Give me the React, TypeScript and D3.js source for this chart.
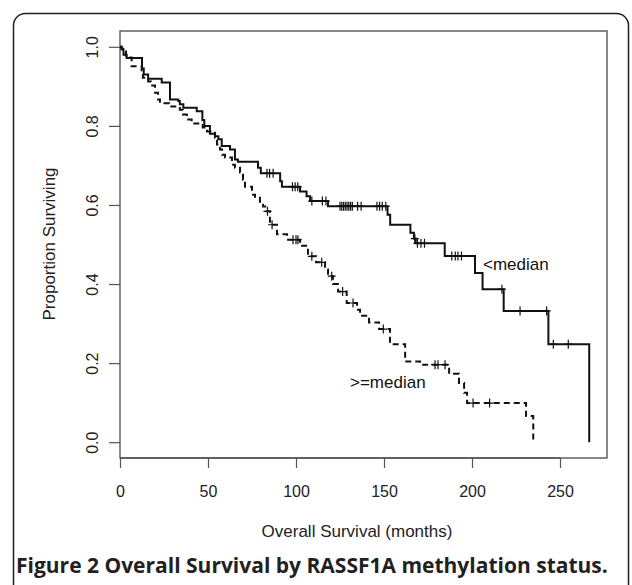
import React, { useEffect, useRef } from 'react';
import * as d3 from 'd3';

// <median group: event times (months) and survival after each event
const lowTimes = [1, 2, 3.8, 12.5, 13.5, 16, 23.7, 28.4, 33.1, 34, 36, 43.6, 46.8, 47.9, 51.1, 54, 55.9, 57.8, 62.5, 65.3, 67, 78.4, 80, 91, 92, 102.3, 106, 108, 118.2, 152, 153.5, 165, 167, 168, 184.5, 201.7, 206, 218, 243.4, 266.6];
const lowSurv = [0.993, 0.98, 0.972, 0.945, 0.93, 0.919, 0.91, 0.867, 0.863, 0.855, 0.846, 0.837, 0.815, 0.8, 0.78, 0.774, 0.766, 0.749, 0.74, 0.715, 0.709, 0.694, 0.68, 0.66, 0.646, 0.634, 0.622, 0.61, 0.597, 0.575, 0.55, 0.53, 0.515, 0.503, 0.471, 0.428, 0.387, 0.332, 0.248, 0];
const lowCensor = [83.5, 85, 87, 98, 99.5, 101, 109, 115, 117, 125, 126, 127, 128, 129, 130, 131, 132, 135, 137, 146, 147.5, 149, 151, 167.5, 169, 171, 173, 188.5, 190.5, 192, 194, 217, 227.3, 242.4, 246.2, 254.7];

// >=median group
const highTimes = [0.8, 1.7, 3.4, 6.6, 12.3, 13, 16, 17.6, 19.9, 21.6, 22.7, 28, 34, 35.8, 38, 40.7, 47, 49.4, 54, 55.1, 56.8, 58, 59.7, 63.6, 65.3, 68.2, 69.9, 71, 75, 76.7, 79.5, 81.3, 82.5, 85.2, 89.2, 94.9, 102.3, 106.8, 111.4, 116.5, 118.2, 121, 123.9, 128.8, 134.7, 136.4, 141.5, 147.2, 153.4, 162, 170.5, 187, 192.6, 195.5, 197.2, 230.7, 234.8];
const highSurv = [0.995, 0.988, 0.973, 0.951, 0.935, 0.922, 0.912, 0.902, 0.884, 0.867, 0.857, 0.849, 0.841, 0.829, 0.816, 0.806, 0.796, 0.786, 0.77, 0.753, 0.74, 0.727, 0.72, 0.702, 0.694, 0.682, 0.664, 0.646, 0.626, 0.618, 0.608, 0.596, 0.584, 0.55, 0.526, 0.512, 0.497, 0.47, 0.455, 0.437, 0.42, 0.4, 0.381, 0.352, 0.335, 0.32, 0.303, 0.286, 0.248, 0.204, 0.196, 0.173, 0.15, 0.125, 0.099, 0.066, 0];
const highCensor = [83.8, 86.4, 98.3, 100, 101.1, 109, 114.6, 120.3, 126.5, 132.4, 149.6, 179, 180.7, 184.7, 200.6, 210];

const xTicks = [0, 50, 100, 150, 200, 250];
const yTicks = [0, 0.2, 0.4, 0.6, 0.8, 1.0];

const W = 632, H = 585;
const font = 'Liberation Sans, Arial, Helvetica, sans-serif';

function App() {
    const ref = useRef<SVGSVGElement>(null);

    useEffect(() => {
        const svg = d3.select(ref.current);
        svg.selectAll('*').remove();

        const x = d3.scaleLinear().domain([0, 276.7]).range([120, 607]);
        const y = d3.scaleLinear().domain([-0.04, 1.04]).range([458, 31]);

        // outer figure frame (open at the bottom)
        svg.append('rect')
            .attr('x', 13.5).attr('y', 13.5)
            .attr('width', 615).attr('height', 640)
            .attr('rx', 12)
            .attr('fill', 'none')
            .attr('stroke', '#231f20')
            .attr('stroke-width', 1.5);

        // plot box
        svg.append('rect')
            .attr('x', x.range()[0]).attr('y', y.range()[1])
            .attr('width', x.range()[1] - x.range()[0])
            .attr('height', y.range()[0] - y.range()[1])
            .attr('fill', 'none')
            .attr('stroke', '#555')
            .attr('stroke-width', 1.4);

        const xAxis = d3.axisBottom(x).tickValues(xTicks).tickSizeInner(10).tickSizeOuter(0).tickPadding(18).tickFormat(d3.format('d'));
        const gx = svg.append('g').attr('transform', `translate(0,${y.range()[0]})`).call(xAxis);
        gx.select('.domain').attr('stroke', '#555').attr('stroke-width', 1.4)
            .attr('d', `M${x(0)},0H${x(250)}`);
        gx.selectAll('.tick line').attr('stroke', '#555').attr('stroke-width', 1.2);
        gx.selectAll('.tick text').attr('font-family', font).attr('font-size', 16).attr('fill', '#222');

        const yAxis = d3.axisLeft(y).tickValues(yTicks).tickSizeInner(11).tickSizeOuter(0).tickFormat(d3.format('.1f'));
        const gy = svg.append('g').attr('transform', `translate(${x.range()[0]},0)`).call(yAxis);
        gy.select('.domain').remove();
        gy.selectAll('.tick line').attr('stroke', '#555').attr('stroke-width', 1.2);
        gy.selectAll('.tick text')
            .attr('font-family', font).attr('font-size', 16).attr('fill', '#222')
            .attr('x', null).attr('dy', null)
            .attr('text-anchor', 'middle')
            .attr('transform', 'translate(-22.5,0) rotate(-90)');

        // axis titles
        svg.append('text')
            .attr('x', 357).attr('y', 537)
            .attr('text-anchor', 'middle')
            .attr('font-family', font).attr('font-size', 17).attr('fill', '#222')
            .text('Overall Survival (months)');
        svg.append('text')
            .attr('transform', 'translate(55,244) rotate(-90)')
            .attr('text-anchor', 'middle')
            .attr('font-family', font).attr('font-size', 17).attr('fill', '#222')
            .text('Proportion Surviving');

        const line = d3.line<[number, number]>()
            .x(d => x(d[0])).y(d => y(d[1]))
            .curve(d3.curveStepAfter);

        const curves = [
            { times: lowTimes, surv: lowSurv, censor: lowCensor, dash: null },
            { times: highTimes, surv: highSurv, censor: highCensor, dash: '6,4' }
        ];

        curves.forEach(c => {
            const pts: [number, number][] = [[0, 1]];
            c.times.forEach((t, i) => pts.push([t, c.surv[i]]));
            svg.append('path')
                .attr('d', line(pts))
                .attr('fill', 'none')
                .attr('stroke', '#111')
                .attr('stroke-width', 2)
                .attr('stroke-dasharray', c.dash);

            // censoring marks
            const sAt = (t: number) => {
                const i = d3.bisectRight(c.times, t);
                return i === 0 ? 1 : c.surv[i - 1];
            };
            svg.append('g').selectAll('path').data(c.censor).enter()
                .append('path')
                .attr('d', t => {
                    const px = x(t), py = y(sAt(t));
                    return `M${px - 4},${py}H${px + 4}M${px},${py - 4.5}V${py + 4.5}`;
                })
                .attr('stroke', '#111')
                .attr('stroke-width', 1.2)
                .attr('fill', 'none');
        });

        svg.append('text')
            .attr('x', 483).attr('y', 270)
            .attr('font-family', font).attr('font-size', 17).attr('fill', '#111')
            .text('<median');
        svg.append('text')
            .attr('x', 350).attr('y', 388)
            .attr('font-family', font).attr('font-size', 17).attr('fill', '#111')
            .text('>=median');

        svg.append('text')
            .attr('x', 16).attr('y', 573)
            .attr('font-family', 'Open Sans, sans-serif').attr('font-weight', 'bold')
            .attr('font-size', 21).attr('fill', '#231f20')
            .text('Figure 2 Overall Survival by RASSF1A methylation status.');
    }, []);

    return (
        <div style={{ position: 'absolute', left: 0, top: 0 }}>
            <svg ref={ref} width={W} height={H} style={{ display: 'block', background: '#fff' }} />
        </div>
    );
}

export default App;
